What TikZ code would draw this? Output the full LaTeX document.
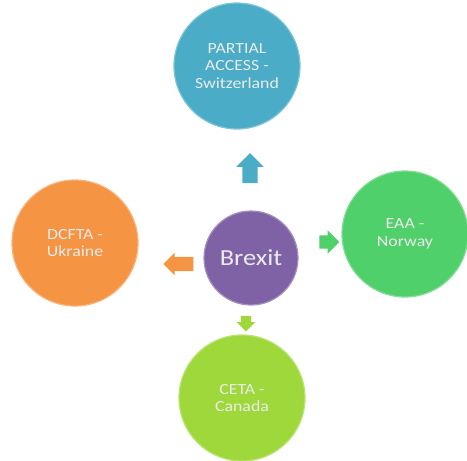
\documentclass[tikz,border=0pt]{standalone}
\usepackage{fontspec}
\setmainfont{Carlito}
\newfontfamily\widefont[FakeStretch=1.15]{Carlito}
\usetikzlibrary{shapes.arrows}
\definecolor{cblue}{HTML}{4AACC6}
\definecolor{cpurple}{HTML}{7F62A6}
\definecolor{corange}{HTML}{F59443}
\definecolor{cgreen}{HTML}{4FD06B}
\definecolor{clime}{HTML}{9ED83A}
\tikzset{
  bubble/.style={circle, minimum size=126pt, inner sep=0pt, align=center,
    text=white!92!black, font=\widefont\fontsize{15.5}{17.5}\selectfont, line width=1.2pt},
  blockarrow/.style={single arrow}
}
\begin{document}
\begin{tikzpicture}[x=1pt,y=-1pt]
\useasboundingbox (0,0) rectangle (467,461);
\node[bubble, fill=cblue, draw=cblue!70!white] (top) at (237,66) {PARTIAL\\ACCESS -\\Switzerland};
\node[bubble, fill=corange, draw=corange!70!white] (left) at (75,243) {DCFTA -\\Ukraine};
\node[bubble, fill=cgreen, draw=cgreen!70!white] (right) at (405,234) {EAA -\\Norway};
\node[bubble, fill=clime, draw=clime!70!white] (bottom) at (242,398) {CETA -\\Canada};
\node[bubble, minimum size=94pt, fill=cpurple, draw=cpurple!70!white, font=\widefont\fontsize{23}{26}\selectfont] (brexit) at (251,258) {Brexit};
\node[blockarrow, fill=cblue, inner sep=7.5pt, single arrow head extend=6pt, minimum height=30pt, shape border rotate=90] (aup) at (250,172) {};
\node[blockarrow, fill=corange, inner sep=7pt, single arrow head extend=4pt, minimum height=30pt, shape border rotate=180] (aleft) at (182,264) {};
\node[blockarrow, fill=cgreen, inner sep=6.5pt, single arrow head extend=5pt, minimum height=18pt] (aright) at (326,242) {};
\node[blockarrow, fill=clime, inner sep=5pt, single arrow head extend=4pt, minimum height=13pt, shape border rotate=270] (adown) at (246,321) {};
\end{tikzpicture}
\end{document}
